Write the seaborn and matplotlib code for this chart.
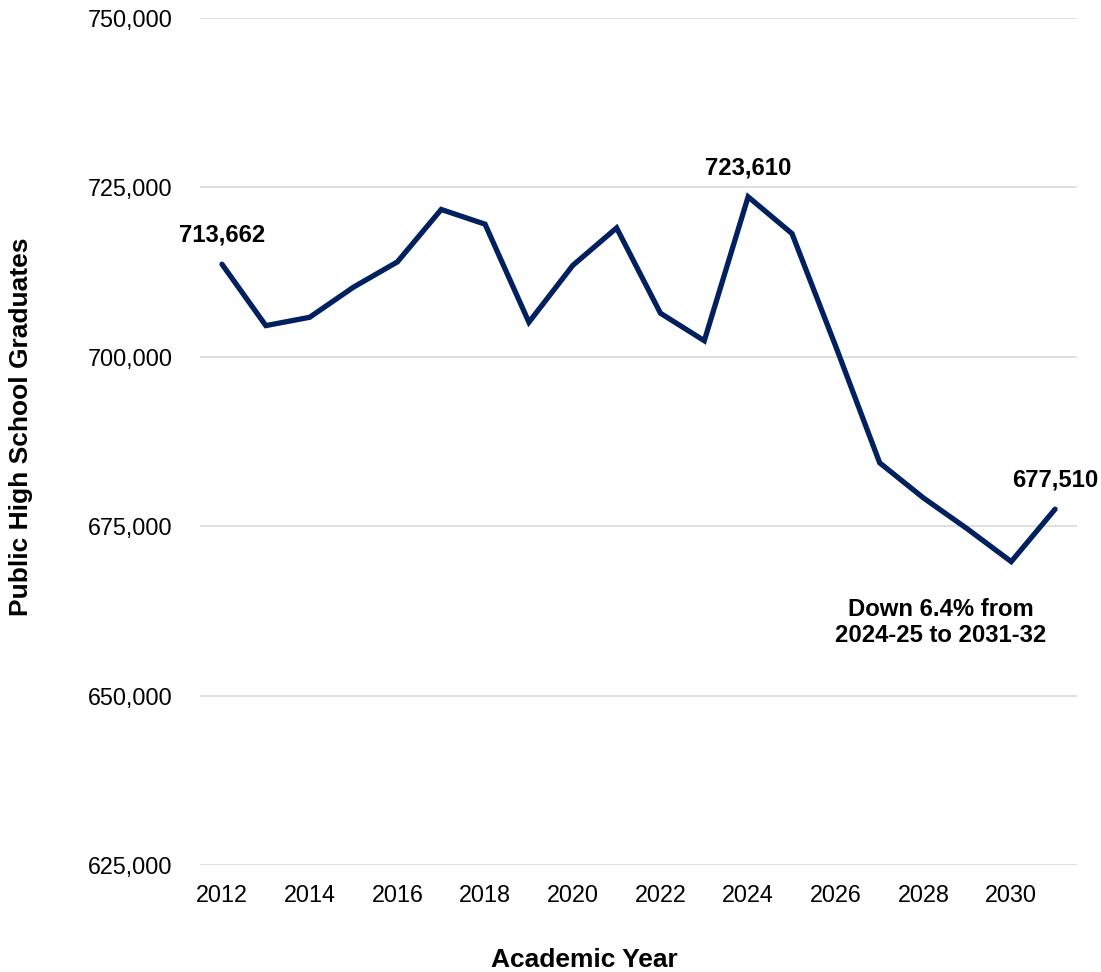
import matplotlib
matplotlib.use("Agg")
import matplotlib.pyplot as plt
import seaborn as sns
import pandas as pd
from matplotlib.ticker import FuncFormatter, MultipleLocator

# Public high school graduates by academic year (2012 = 2012-13)
years = [2012, 2013, 2014, 2015, 2016, 2017, 2018, 2019, 2020, 2021,
         2022, 2023, 2024, 2025, 2026, 2027, 2028, 2029, 2030, 2031]
graduates = [713662, 704600, 705830, 710280, 714000, 721740, 719570, 705100,
             713480, 719020, 706430, 702370, 723610, 718180, 701500, 684350,
             679160, 674600, 669770, 677510]
labeled_years = [2012, 2024, 2031]
note_text = "Down 6.4% from\n2024-25 to 2031-32"
x_ticks = [2012, 2014, 2016, 2018, 2020, 2022, 2024, 2026, 2028, 2030]

df = pd.DataFrame({"Academic Year": years, "Graduates": graduates})

sns.set_theme(style="white")
plt.rcParams["font.family"] = ["Liberation Sans", "DejaVu Sans"]

navy = "#002060"
fig = plt.figure(figsize=(11.01, 9.72), dpi=100)
ax = fig.add_axes([0.1817, 0.1101, 0.7965, 0.8714])

sns.lineplot(data=df, x="Academic Year", y="Graduates", ax=ax,
             color=navy, linewidth=3.8, solid_joinstyle="miter", zorder=3)

ax.set_xlim(2011.5, 2031.5)
ax.set_ylim(625000, 750000)
ax.yaxis.set_major_locator(MultipleLocator(25000))
ax.yaxis.set_major_formatter(FuncFormatter(lambda v, p: f"{v:,.0f}"))
ax.set_xticks(x_ticks)
ax.grid(axis="y", color="#d9d9d9", linewidth=1.2, zorder=0)
ax.grid(axis="x", visible=False)
for s in ax.spines.values():
    s.set_visible(False)
ax.tick_params(axis="y", length=0, pad=20, labelsize=16.8, labelcolor="#000000")
ax.tick_params(axis="x", length=0, pad=14, labelsize=16.8, labelcolor="#000000")

ax.set_xlabel("Academic Year", fontsize=19, fontweight="bold", color="black",
              va="center")
ax.set_ylabel("Public High School Graduates", fontsize=19, fontweight="bold",
              color="black")
ax.xaxis.set_label_coords(0.438, -0.112)
ax.yaxis.set_label_coords(-0.191, 0.517)

# Value labels above selected points
for yr in labeled_years:
    val = graduates[years.index(yr)]
    ax.annotate(f"{val:,}", xy=(yr, val), xytext=(0, 12.5), textcoords="offset points",
                ha="center", va="bottom", fontsize=17.2, fontweight="bold", color="black")

ax.text(2028.4, 660830, note_text, ha="center", va="center", fontsize=17.2,
        fontweight="bold", color="black", linespacing=1.15)

fig.savefig("out.png", dpi=100)
